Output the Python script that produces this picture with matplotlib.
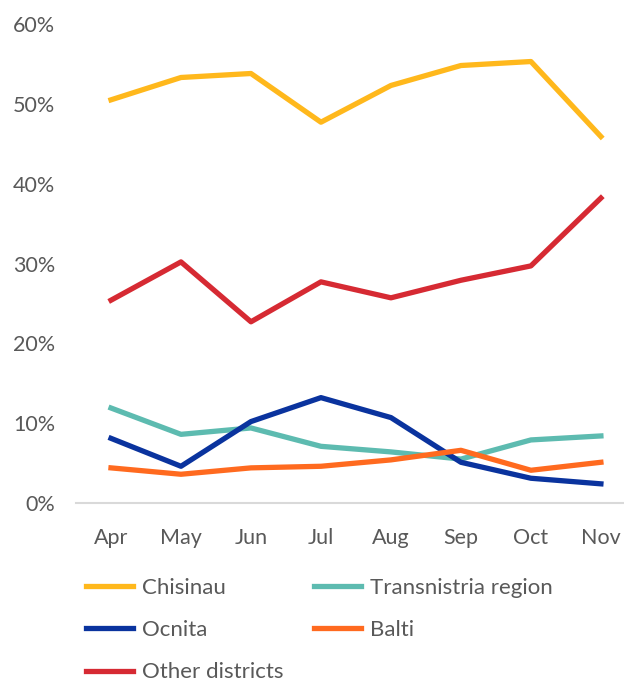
import matplotlib.pyplot as plt
from matplotlib.ticker import PercentFormatter

# Datos de la gráfica (porcentajes)
months = ["Apr", "May", "Jun", "Jul", "Aug", "Sep", "Oct", "Nov"]
chisinau = [50.5, 53.3, 53.8, 47.7, 52.3, 54.8, 55.3, 45.9]
transnistria = [11.9, 8.6, 9.4, 7.1, 6.4, 5.5, 7.9, 8.4]
ocnita = [8.1, 4.6, 10.2, 13.2, 10.7, 5.1, 3.1, 2.4]
balti = [4.4, 3.6, 4.4, 4.6, 5.4, 6.6, 4.1, 5.1]
other = [25.4, 30.2, 22.7, 27.7, 25.7, 27.9, 29.7, 38.2]

plt.rcParams["font.family"] = ["Lato", "DejaVu Sans"]
gray = "#595959"

fig = plt.figure(figsize=(6.24, 6.81), dpi=100)
ax = fig.add_axes([76 / 624, 1 - 503 / 681, 548 / 624, (503 - 24) / 681])

x = range(len(months))
lw = 3.8
l_chi, = ax.plot(x, chisinau, color="#FFB81C", lw=lw, label="Chisinau")
l_tra, = ax.plot(x, transnistria, color="#5DBBB0", lw=lw, label="Transnistria region")
l_ocn, = ax.plot(x, ocnita, color="#0A339E", lw=lw, label="Ocnita")
l_bal, = ax.plot(x, balti, color="#FF6A1F", lw=lw, label="Balti")
l_oth, = ax.plot(x, other, color="#D62A33", lw=lw, label="Other districts")
l_chi.set_zorder(3)
l_oth.set_zorder(3)

ax.set_xlim(-0.5, 7.33)
ax.set_ylim(0, 60)
ax.set_yticks(range(0, 61, 10))
ax.yaxis.set_major_formatter(PercentFormatter(decimals=0))
ax.set_xticks(list(x))
ax.set_xticklabels(months)
ax.tick_params(axis="both", length=0, labelsize=15.5, colors=gray)
ax.tick_params(axis="y", pad=15)
ax.tick_params(axis="x", pad=18)

for side in ["top", "right", "left"]:
    ax.spines[side].set_visible(False)
ax.spines["bottom"].set_color("#D9D9D9")
ax.spines["bottom"].set_linewidth(1.5)
ax.spines["bottom"].set_clip_on(False)

handles = [l_chi, l_ocn, l_oth, l_tra, l_bal]
leg = fig.legend(handles, [h.get_label() for h in handles], ncol=2,
                 loc="upper left", bbox_to_anchor=(86 / 624, 1 - 578 / 681),
                 frameon=False, fontsize=16, handlelength=2.1, handletextpad=0.4,
                 labelspacing=1.0, columnspacing=1.4, borderpad=0, borderaxespad=0)
for t in leg.get_texts():
    t.set_color(gray)

fig.savefig("out.png", dpi=100)
